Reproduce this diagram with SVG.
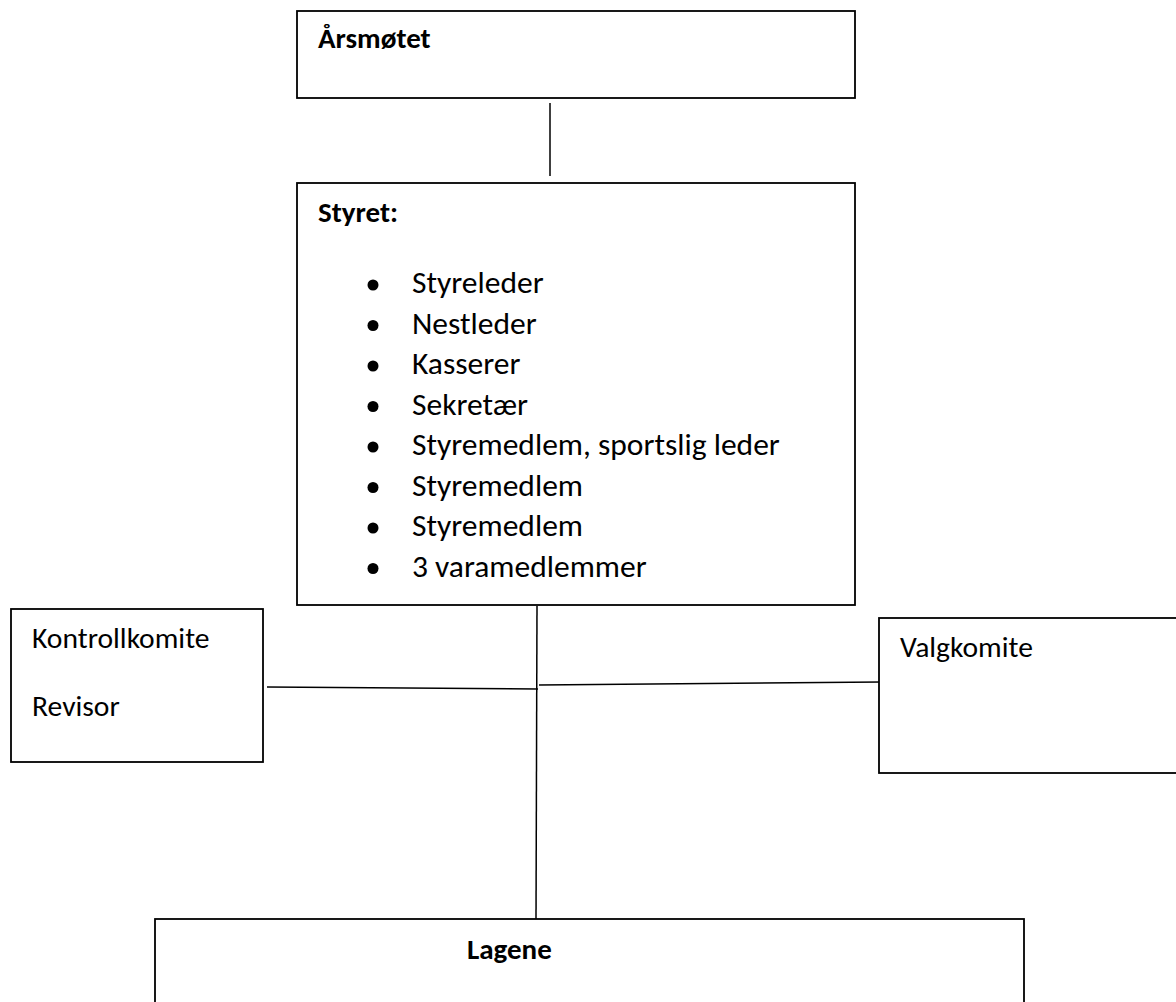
<svg xmlns="http://www.w3.org/2000/svg" width="1176" height="1002" viewBox="0 0 1176 1002">
<style>
.box{fill:#ffffff;stroke:#000000;stroke-width:1.8}
.conn{stroke:#000000;stroke-width:1.5;fill:none}
.t{font-family:Carlito,Lato,"Liberation Sans",sans-serif;font-size:29.6px;fill:#000000}
.li{font-size:31.5px}
.b{font-weight:bold;font-size:29px}
.dot{fill:#000000}
</style>
<rect width="1176" height="1002" fill="#ffffff"/>
<g id="connectors">
<line class="conn" x1="550" y1="103" x2="550" y2="176"/>
<line class="conn" x1="537" y1="606" x2="536" y2="919"/>
<line class="conn" x1="267" y1="687" x2="538" y2="689"/>
<line class="conn" x1="539" y1="685" x2="881" y2="682"/>
</g>
<g id="arsmotet">
<rect class="box" x="297" y="11" width="558" height="87"/>
<text class="t b" x="318" y="48">Årsmøtet</text>
</g>
<g id="styret">
<rect class="box" x="297" y="183" width="558" height="422"/>
<text class="t b" x="318" y="222">Styret:</text>
<circle class="dot" cx="373" cy="285" r="5.5"/>
<text class="t li" x="412" y="293">Styreleder</text>
<circle class="dot" cx="373" cy="325.5" r="5.5"/>
<text class="t li" x="412" y="333.5">Nestleder</text>
<circle class="dot" cx="373" cy="366" r="5.5"/>
<text class="t li" x="412" y="374">Kasserer</text>
<circle class="dot" cx="373" cy="406.5" r="5.5"/>
<text class="t li" x="412" y="414.5">Sekretær</text>
<circle class="dot" cx="373" cy="447" r="5.5"/>
<text class="t li" x="412" y="455">Styremedlem, sportslig leder</text>
<circle class="dot" cx="373" cy="487.5" r="5.5"/>
<text class="t li" x="412" y="495.5">Styremedlem</text>
<circle class="dot" cx="373" cy="528" r="5.5"/>
<text class="t li" x="412" y="536">Styremedlem</text>
<circle class="dot" cx="373" cy="568.5" r="5.5"/>
<text class="t li" x="412" y="576.5">3 varamedlemmer</text>
</g>
<g id="kontrollkomite">
<rect class="box" x="11" y="609" width="252" height="153"/>
<text class="t" x="32" y="648">Kontrollkomite</text>
<text class="t" x="32" y="716">Revisor</text>
</g>
<g id="valgkomite">
<rect class="box" x="879" y="618" width="310" height="155"/>
<text class="t" x="900" y="657">Valgkomite</text>
</g>
<g id="lagene">
<rect class="box" x="155" y="919" width="869" height="100"/>
<text class="t b" x="467" y="959">Lagene</text>
</g>
</svg>
